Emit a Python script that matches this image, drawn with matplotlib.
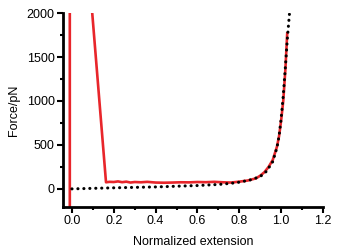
import matplotlib.pyplot as plt
from matplotlib.ticker import MultipleLocator
import numpy as np

plt.rcParams['font.family'] = ['Liberation Sans', 'DejaVu Sans']

# measured force-extension trace (red), includes off-scale points
ext_meas = [-0.01, -0.01, 0.063, 0.163, 0.18, 0.2, 0.22, 0.24, 0.26, 0.28, 0.3, 0.33, 0.36, 0.4,
            0.44, 0.48, 0.52, 0.56, 0.6, 0.64, 0.68, 0.72, 0.76, 0.8, 0.84, 0.88, 0.9,
            0.92, 0.94, 0.96, 0.98, 0.99, 1.0, 1.01, 1.02, 1.029]
force_meas = [-1000, 3000, 3000, 75, 80, 78, 85, 76, 82, 72, 78, 75, 80, 72,
              70, 72, 75, 74, 78, 76, 80, 75, 72, 82, 95, 120, 150,
              190, 250, 330, 480, 600, 780, 1000, 1350, 1770]

# model curve (black dotted)
ext_fit = [0.0, 0.1, 0.2, 0.3, 0.4, 0.5, 0.6, 0.7, 0.76, 0.8, 0.85, 0.9, 0.93, 0.96,
           0.98, 0.99, 1.0, 1.01, 1.02, 1.03, 1.04]
force_fit = [0, 6, 12, 17, 22, 30, 38, 50, 63, 76, 100, 140, 200, 310,
             470, 600, 800, 1060, 1380, 1720, 2000]

fig = plt.figure(figsize=(3.4, 2.52), dpi=100)
ax = fig.add_axes([0.185, 0.179, 0.765, 0.769])

ax.plot(ext_meas, force_meas, color='#e8262b', lw=1.9, zorder=2)
ax.plot(ext_fit, force_fit, color='black', lw=2.2, linestyle=(0, (0.05, 1.9)),
        dash_capstyle='round', zorder=3)

ax.set_xlim(-0.043, 1.2)
ax.set_ylim(-205, 2000)
ax.xaxis.set_minor_locator(MultipleLocator(0.1))
ax.yaxis.set_major_locator(MultipleLocator(500))
ax.yaxis.set_minor_locator(MultipleLocator(250))
ax.set_xticks(np.arange(0, 1.21, 0.2))
ax.set_xticklabels(['0.0', '0.2', '0.4', '0.6', '0.8', '1.0', '1.2'])

for s in ['top', 'right']:
    ax.spines[s].set_visible(False)
for s in ['left', 'bottom']:
    ax.spines[s].set_linewidth(2)

ax.tick_params(which='major', length=4, width=1.5, labelsize=9, pad=2)
ax.tick_params(which='minor', length=2.5, width=1.5)

ax.set_xlabel('Normalized extension', fontsize=9, labelpad=6)
ax.set_ylabel('Force/pN', fontsize=9, labelpad=5)

fig.savefig('out.png', dpi=100)
